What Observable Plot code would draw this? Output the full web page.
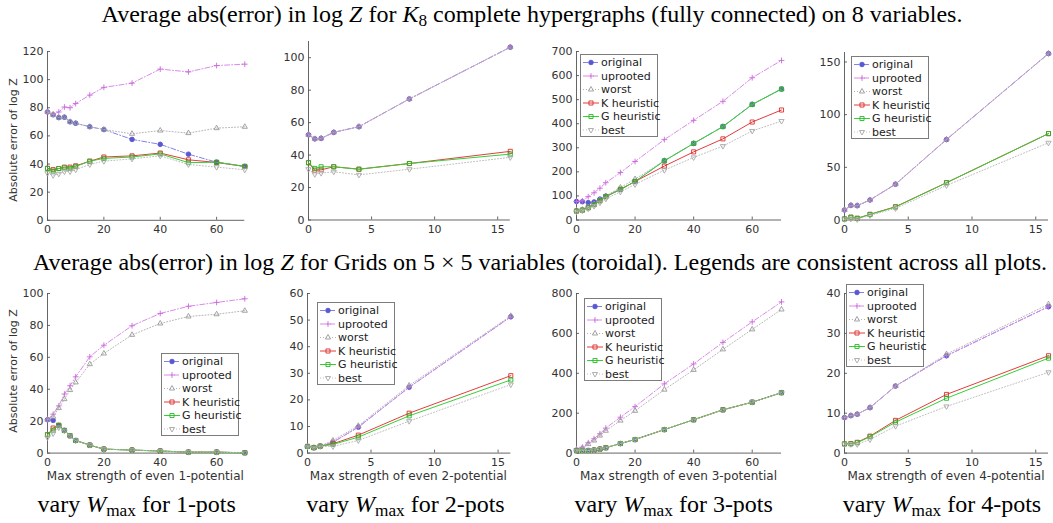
<!DOCTYPE html>
<html><head><meta charset="utf-8">
<script src="https://cdn.jsdelivr.net/npm/d3@7"></script>
<script src="https://cdn.jsdelivr.net/npm/@observablehq/plot@0.6"></script>
<style>
html,body{margin:0;padding:0;background:#fff;}
#fig{position:relative;width:1053px;height:523px;overflow:hidden;background:#fff;font-family:"DejaVu Sans",sans-serif;}
.title,.cap{position:absolute;font-family:"Liberation Serif","Times New Roman",serif;color:#000;white-space:nowrap;transform:translateX(-50%);line-height:1;}
.title{font-size:24px;}
.cap{font-size:24px;}
.sub{font-size:0.72em;position:relative;top:0.28em;}
.xlab{position:absolute;font-size:12px;color:#333;white-space:nowrap;transform:translate(-50%,-50%);line-height:1;}
.ylab{position:absolute;font-size:11px;color:#333;white-space:nowrap;transform:translate(-50%,-50%) rotate(-90deg);line-height:1;}
svg.leg{position:absolute;overflow:visible;}
</style>
</head><body>
<div id="fig">
<div class="title" style="left:532px;top:1.5px">Average abs(error) in log <i>Z</i> for <i>K</i><span class="sub">8</span> complete hypergraphs (fully connected) on 8 variables.</div>
<div class="title" style="left:540px;top:250px">Average abs(error) in log <i>Z</i> for Grids on 5 × 5 variables (toroidal). Legends are consistent across all plots.</div>
</div>
<script>
// ---------- data ----------
const xs70 = [0, 2, 4, 6, 8, 10, 15, 20, 30, 40, 50, 60, 70];
const xs16 = [0, 0.5, 1, 2, 4, 8, 16];
const seriesNames = ["original", "uprooted", "worst", "K heuristic", "G heuristic", "best"];

// K8 complete hypergraphs, 1-pots
const k8p1_original = [77, 75, 73, 73.3, 70, 69, 66.5, 64.5, 57.5, 54, 47, 41.3, 38.3];
const k8p1_uprooted = [77, 75.5, 77, 80.5, 80, 83, 89, 94.5, 97.5, 107.5, 105.5, 110, 111];
const k8p1_worst = [77, 75, 73, 73.3, 70, 69, 66.5, 64.5, 61.5, 63.8, 62, 65.5, 66.5];
const k8p1_K = [37, 36, 36.8, 37.8, 37.8, 38.7, 42, 45, 45.8, 47.8, 43, 41.1, 38.3];
const k8p1_G = [36.8, 35, 36.8, 37.3, 37, 38.3, 42, 44, 45, 47.2, 41, 41.3, 38.3];
const k8p1_best = [33.5, 32, 33, 34.7, 34.7, 36, 39.7, 42, 43.7, 45.8, 39.7, 37.8, 35.9];

// K8, 2-pots
const k8p2_original = [52.5, 50, 50.3, 54, 57.5, 74.6, 106.5];
const k8p2_uprooted = [52.5, 50, 50.3, 54, 57.5, 74.6, 106.5];
const k8p2_worst = [52.5, 50, 50.3, 54, 57.5, 74.6, 106.5];
const k8p2_K = [35.3, 30.7, 30.9, 32.8, 31.3, 34.8, 42.3];
const k8p2_G = [35.3, 31.8, 32.8, 32.8, 31.3, 34.8, 40.6];
const k8p2_best = [31.3, 28.2, 28.9, 29.7, 27.8, 31.3, 38.6];

// K8, 3-pots
const k8p3_original = [77, 76, 72, 75, 87, 99, 127, 160, 246, 318, 388, 480, 544];
const k8p3_uprooted = [77, 80, 97, 113, 132, 155, 197, 243, 334, 414, 493, 591, 663];
const k8p3_worst = [40, 43, 53, 66, 83, 100, 135, 170, 246, 318, 388, 480, 544];
const k8p3_K = [37, 41, 51, 64, 80, 97, 127, 160, 224, 283, 337, 407, 457];
const k8p3_G = [37, 41, 51, 64, 80, 97, 127, 160, 246, 318, 388, 480, 544];
const k8p3_best = [35, 39, 47, 58, 72, 88, 117, 148, 207, 260, 307, 370, 411];

// K8, 4-pots
const k8p4_original = [9.5, 13.9, 13.6, 19, 34, 76.4, 158];
const k8p4_uprooted = [9.5, 13.9, 13.6, 19, 34, 76.4, 158];
const k8p4_worst = [9.5, 13.9, 13.6, 19, 34, 76.4, 158];
const k8p4_K = [1, 2.5, 1.6, 5.4, 12.6, 35.4, 82];
const k8p4_G = [1, 2.8, 1.6, 5.2, 12.3, 35.4, 82];
const k8p4_best = [0.6, 1, 0.6, 4.4, 11, 32.8, 73.3];

// Grids 5x5, 1-pots
const gr1_original = [20.9, 20.5, 17.3, 14.2, 10.9, 7.9, 5, 2.5, 1.9, 1.3, 0.6, 0.6, 0.2];
const gr1_uprooted = [20.9, 24.4, 29.6, 37, 42.2, 47.8, 60.3, 67.6, 79.8, 87.5, 92, 94.4, 96.7];
const gr1_worst = [20.9, 22.8, 28.2, 33.8, 39.5, 44.3, 55.7, 62.4, 74.1, 81.2, 85.6, 87, 89.2];
const gr1_K = [11.5, 15.7, 17.3, 14.2, 10.9, 7.9, 5, 2.5, 1.9, 1.3, 0.6, 0.6, 0.2];
const gr1_G = [11.5, 14.4, 17.5, 14.2, 10.9, 7.9, 5, 2.5, 1.9, 1.3, 0.6, 0.6, 0.2];
const gr1_best = [9.8, 12.3, 16, 14, 10.9, 7.9, 5, 2.5, 1.9, 1.3, 0.6, 0.6, 0.2];

// Grids, 2-pots
const gr2_original = [2.5, 2, 2.6, 4.1, 9.75, 24.75, 51.25];
const gr2_uprooted = [2.5, 2, 2.6, 4.1, 9.75, 24.75, 51.25];
const gr2_worst = [2.5, 2, 2.6, 4.75, 10.25, 25.4, 51.6];
const gr2_K = [2.5, 2.1, 2.6, 3.5, 6.75, 15, 29.1];
const gr2_G = [2.5, 2, 2.6, 3.25, 6, 14, 27.5];
const gr2_best = [2.4, 2, 2.5, 2.5, 4.75, 12, 25.75];

// Grids, 3-pots
const gr3_original = [12, 13, 13, 15, 20, 27, 48, 68, 118, 167, 217, 255, 303];
const gr3_uprooted = [22, 30, 52, 72, 97, 125, 180, 233, 347, 447, 555, 658, 758];
const gr3_worst = [18, 25, 45, 63, 88, 112, 163, 212, 318, 417, 520, 620, 720];
const gr3_K = [12, 13, 13, 15, 20, 27, 48, 68, 118, 167, 217, 255, 303];
const gr3_G = [12, 13, 13, 15, 20, 27, 48, 68, 118, 167, 217, 255, 303];
const gr3_best = [12, 13, 13, 15, 20, 27, 48, 68, 118, 167, 217, 255, 303];

// Grids, 4-pots
const gr4_original = [8.9, 9.4, 9.75, 11.4, 16.8, 24.4, 36.7];
const gr4_uprooted = [8.9, 9.4, 9.75, 11.4, 16.8, 24.4, 36.7];
const gr4_worst = [8.9, 9.4, 9.75, 11.4, 16.8, 24.8, 37.3];
const gr4_K = [2.3, 2.4, 2.7, 4.25, 8.2, 14.7, 24.4];
const gr4_G = [2.3, 2.3, 2.6, 4.1, 7.75, 13.75, 23.8];
const gr4_best = [2.2, 2.2, 2.2, 3.4, 6.75, 11.7, 20.25];

const ticks70 = [0, 20, 40, 60];
const ticks16 = [0, 5, 10, 15];
const xLabels = ["Max strength of even 1-potential", "Max strength of even 2-potential",
                 "Max strength of even 3-potential", "Max strength of even 4-potential"];
const captionPots = ["1-pots", "2-pots", "3-pots", "4-pots"];
const yLabel = "Absolute error of log Z";

// ---------- styles ----------
const lineColors = ["#8383e6", "#d98ae8", "#b4b4b4", "#e23c3c", "#36cf36", "#bdbdbd"];
const markColors = ["#5858d4", "#cc66dd", "#9a9a9a", "#dd2e2e", "#24b824", "#a8a8a8"];
const dashes = ["5,2,1,2", "5,2,1,2", "1,2", null, null, "1,2"];
const triangleDown = {draw(context, size) {
  const s = Math.sqrt(size) * 0.6824, t = s / 2, u = s * Math.sqrt(3) / 2;
  context.moveTo(0, s); context.lineTo(u, -t); context.lineTo(-u, -t); context.closePath();
}};
const symbols = [d3.symbolCircle, d3.symbolPlus, d3.symbolTriangle2, d3.symbolSquare2, d3.symbolSquare2, triangleDown];
const radii = [2.3, 2.0, 2.5, 2.6, 2.6, 2.5];
const filled = [true, false, false, false, false, false];
const axisColor = "#555";

const panels = [
  {xs: xs70, ys: [k8p1_original, k8p1_uprooted, k8p1_worst, k8p1_K, k8p1_G, k8p1_best], xDomain: [0, 70], yDomain: [0, 120], xTicks: ticks70, yTicks: [0, 20, 40, 60, 80, 100, 120], box: [46.7, 244, 50.7, 219.5], legend: null},
  {xs: xs16, ys: [k8p2_original, k8p2_uprooted, k8p2_worst, k8p2_K, k8p2_G, k8p2_best], xDomain: [0, 16], yDomain: [0, 110], xTicks: ticks16, yTicks: [0, 20, 40, 60, 80, 100], box: [307.7, 509.5, 41, 219.5], legend: null},
  {xs: xs70, ys: [k8p3_original, k8p3_uprooted, k8p3_worst, k8p3_K, k8p3_G, k8p3_best], xDomain: [0, 70], yDomain: [0, 700], xTicks: ticks70, yTicks: [0, 100, 200, 300, 400, 500, 600, 700], box: [576, 781, 51, 219.5], legend: [580, 54]},
  {xs: xs16, ys: [k8p4_original, k8p4_uprooted, k8p4_worst, k8p4_K, k8p4_G, k8p4_best], xDomain: [0, 16], yDomain: [0, 159], xTicks: ticks16, yTicks: [0, 50, 100, 150], box: [844, 1048, 52, 219.5], legend: [851, 55.5]},
  {xs: xs70, ys: [gr1_original, gr1_uprooted, gr1_worst, gr1_K, gr1_G, gr1_best], xDomain: [0, 70], yDomain: [0, 100], xTicks: ticks70, yTicks: [0, 20, 40, 60, 80, 100], box: [46.7, 244, 292.7, 452.3], legend: [161, 353]},
  {xs: xs16, ys: [gr2_original, gr2_uprooted, gr2_worst, gr2_K, gr2_G, gr2_best], xDomain: [0, 16], yDomain: [0, 60], xTicks: ticks16, yTicks: [0, 10, 20, 30, 40, 50, 60], box: [306.7, 510, 292.7, 452.3], legend: [317.3, 301.7]},
  {xs: xs70, ys: [gr3_original, gr3_uprooted, gr3_worst, gr3_K, gr3_G, gr3_best], xDomain: [0, 70], yDomain: [0, 800], xTicks: ticks70, yTicks: [0, 200, 400, 600, 800], box: [576, 781, 292.7, 452.3], legend: [584.3, 298.3]},
  {xs: xs16, ys: [gr4_original, gr4_uprooted, gr4_worst, gr4_K, gr4_G, gr4_best], xDomain: [0, 16], yDomain: [0, 40], xTicks: ticks16, yTicks: [0, 10, 20, 30, 40], box: [844, 1048, 292.7, 452.3], legend: [846, 284]}
];

const fig = document.getElementById("fig");

panels.forEach((p, pi) => {
  const [L, R, T, B] = p.box;
  const ml = 40, mr = 12, mt = 8, mb = 22;
  const W = R - L, H = B - T;
  const xt = p.xDomain[1] * 3 / W, yt = p.yDomain[1] * 3 / H;
  const marks = [
    Plot.ruleX([0], {stroke: axisColor, strokeWidth: 0.9}),
    Plot.ruleY([0], {stroke: axisColor, strokeWidth: 0.9}),
    Plot.ruleY(p.yTicks, {x1: () => 0, x2: () => xt, stroke: axisColor, strokeWidth: 0.9}),
    Plot.ruleX(p.xTicks, {y1: () => 0, y2: () => yt, stroke: axisColor, strokeWidth: 0.9}),
    Plot.axisX({ticks: p.xTicks, tickSize: 0, tickPadding: 5, tickFormat: d => String(d)}),
    Plot.axisY({ticks: p.yTicks, tickSize: 0, tickPadding: 4, tickFormat: d => String(d)})
  ];
  seriesNames.forEach((name, i) => {
    const data = p.xs.map((x, j) => ({x, y: p.ys[i][j], series: name}));
    marks.push(Plot.line(data, {x: "x", y: "y", stroke: lineColors[i], strokeWidth: 1, strokeDasharray: dashes[i]}));
    marks.push(Plot.dot(data, {x: "x", y: "y", symbol: symbols[i], r: radii[i],
      stroke: markColors[i], strokeWidth: 0.9, fill: filled[i] ? markColors[i] : "none"}));
  });
  const svg = Plot.plot({
    width: W + ml + mr, height: H + mt + mb,
    marginLeft: ml, marginRight: mr, marginTop: mt, marginBottom: mb,
    x: {domain: p.xDomain, label: null},
    y: {domain: p.yDomain, label: null},
    style: {fontFamily: "DejaVu Sans, sans-serif", fontSize: "11px", color: "#333", background: "transparent", overflow: "visible", maxWidth: "none"},
    marks
  });
  svg.style.position = "absolute";
  svg.style.left = (L - ml) + "px";
  svg.style.top = (T - mt) + "px";
  fig.appendChild(svg);

  if (pi >= 4) {
    const xl = document.createElement("div");
    xl.className = "xlab";
    xl.textContent = xLabels[pi - 4];
    xl.style.left = ((L + R) / 2) + "px";
    xl.style.top = "476px";
    fig.appendChild(xl);
  }
  if (pi === 0 || pi === 4) {
    const yl = document.createElement("div");
    yl.className = "ylab";
    yl.textContent = yLabel;
    yl.style.left = "12.7px";
    yl.style.top = (pi === 0 ? 140 : 371) + "px";
    fig.appendChild(yl);
  }
  if (p.legend) {
    const [lx, ly] = p.legend;
    const lw = 78, lh = 83;
    const g = d3.create("svg").attr("class", "leg").attr("width", lw).attr("height", lh)
      .style("left", lx + "px").style("top", ly + "px");
    g.append("rect").attr("x", 0.5).attr("y", 0.5).attr("width", lw - 1).attr("height", lh - 1)
      .attr("fill", "#fff").attr("stroke", "#7c7c7c").attr("stroke-width", 1);
    seriesNames.forEach((name, i) => {
      const cy = 8.5 + i * 13.5;
      g.append("line").attr("x1", 3).attr("x2", 19).attr("y1", cy).attr("y2", cy)
        .attr("stroke", lineColors[i]).attr("stroke-width", 1).attr("stroke-dasharray", dashes[i]);
      g.append("path").attr("transform", `translate(11,${cy})`)
        .attr("d", d3.symbol(symbols[i], radii[i] * radii[i] * Math.PI)())
        .attr("stroke", markColors[i]).attr("stroke-width", 0.9).attr("fill", filled[i] ? markColors[i] : "none");
      g.append("text").attr("x", 21).attr("y", cy).attr("dy", "0.35em")
        .attr("font-family", "DejaVu Sans, sans-serif").attr("font-size", 11).attr("fill", "#222").text(name);
    });
    fig.appendChild(g.node());
  }
});

// captions
const capCenters = [136.7, 405.5, 673.7, 942];
captionPots.forEach((pots, i) => {
  const c = document.createElement("div");
  c.className = "cap";
  c.style.left = capCenters[i] + "px";
  c.style.top = "491.6px";
  c.innerHTML = `vary <i>W</i><span class="sub">max</span> for ${pots}`;
  fig.appendChild(c);
});
</script>
</body></html>
